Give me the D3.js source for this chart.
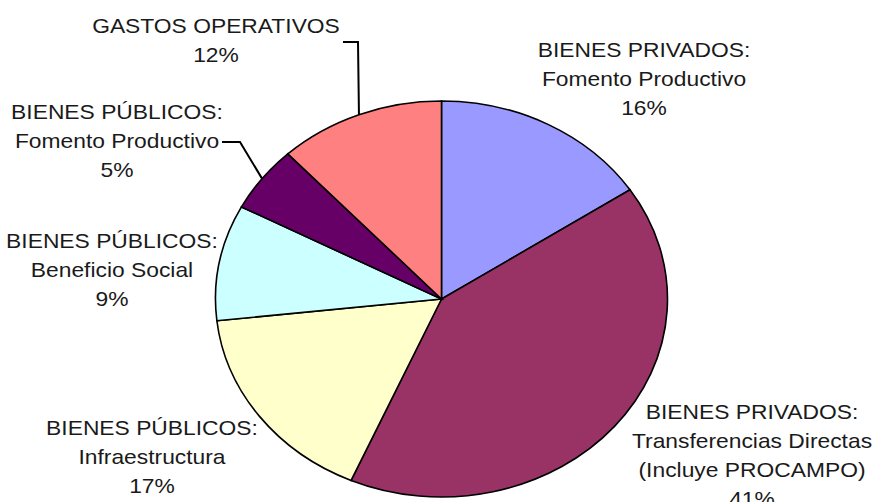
<!DOCTYPE html>
<html>
<head>
<meta charset="utf-8">
<script src="https://cdn.jsdelivr.net/npm/d3@7"></script>
<style>
  body { margin: 0; background: #fff; }
  text { font-family: "Liberation Sans", Arial, sans-serif; fill: #1a1a1a; }
</style>
</head>
<body>
<div id="chart"></div>
<script>
  // data
  var categories = [
    "BIENES PRIVADOS: Fomento Productivo",
    "BIENES PRIVADOS: Transferencias Directas (Incluye PROCAMPO)",
    "BIENES PÚBLICOS: Infraestructura",
    "BIENES PÚBLICOS: Beneficio Social",
    "BIENES PÚBLICOS: Fomento Productivo",
    "GASTOS OPERATIVOS"
  ];
  var labelLines = [
    ["BIENES PRIVADOS:", "Fomento Productivo"],
    ["BIENES PRIVADOS:", "Transferencias Directas", "(Incluye PROCAMPO)"],
    ["BIENES PÚBLICOS:", "Infraestructura"],
    ["BIENES PÚBLICOS:", "Beneficio Social"],
    ["BIENES PÚBLICOS:", "Fomento Productivo"],
    ["GASTOS OPERATIVOS"]
  ];
  // shares in % (labels show them rounded)
  var values = [15.7, 40.85, 16.7, 9.45, 5.4, 11.9];
  var colors = ["#9999ff", "#993366", "#ffffcc", "#ccffff", "#660066", "#ff8080"];

  // layout: label centre x / first line y, optional leader (start, elbow)
  var labelPos = [
    {x: 644, y: 50},
    {x: 752, y: 412},
    {x: 152, y: 428},
    {x: 112, y: 241},
    {x: 117, y: 112, leader: [[222, 142], [240, 142]]},
    {x: 216, y: 26, leader: [[343, 42], [358, 42]]}
  ];

  var width = 882, height = 502,
      cx = 441.5, cy = 299,
      r = 198, sx = 1.1414,
      lineH = 29;

  var svg = d3.select("#chart")
    .append("svg")
    .attr("width", width)
    .attr("height", height);

  var pie = d3.pie().sort(null).value(function(d) { return d; });
  var arcs = pie(values);
  var arc = d3.arc().innerRadius(0).outerRadius(r);

  var g = svg.append("g")
    .attr("transform", "translate(" + cx + "," + cy + ") scale(" + sx + ",1)");

  g.selectAll("path")
    .data(arcs)
    .enter().append("path")
    .attr("d", arc)
    .style("fill", function(d, i) { return colors[i]; })
    .style("stroke", "#000")
    .style("stroke-width", 1.6)
    .attr("vector-effect", "non-scaling-stroke");

  // leader lines to the outer edge at mid angle
  arcs.forEach(function(d, i) {
    var p = labelPos[i];
    if (!p.leader) return;
    var a = (d.startAngle + d.endAngle) / 2;
    var end = [cx + sx * r * Math.sin(a), cy - r * Math.cos(a)];
    svg.append("path")
      .attr("d", d3.line()([p.leader[0], p.leader[1], end]))
      .style("fill", "none")
      .style("stroke", "#000")
      .style("stroke-width", 2);
  });

  // labels
  var labels = svg.selectAll(".label")
    .data(arcs)
    .enter().append("g")
    .attr("class", "label")
    .attr("transform", function(d, i) {
      return "translate(" + labelPos[i].x + "," + labelPos[i].y + ") scale(" + sx + ",1)";
    });

  labels.each(function(d, i) {
    var lines = labelLines[i].concat([Math.round(d.data) + "%"]);
    d3.select(this).selectAll("text")
      .data(lines)
      .enter().append("text")
      .attr("y", function(t, j) { return j * lineH; })
      .attr("dy", "0.36em")
      .attr("text-anchor", "middle")
      .style("font-size", "20px")
      .text(function(t) { return t; });
  });
</script>
</body>
</html>
